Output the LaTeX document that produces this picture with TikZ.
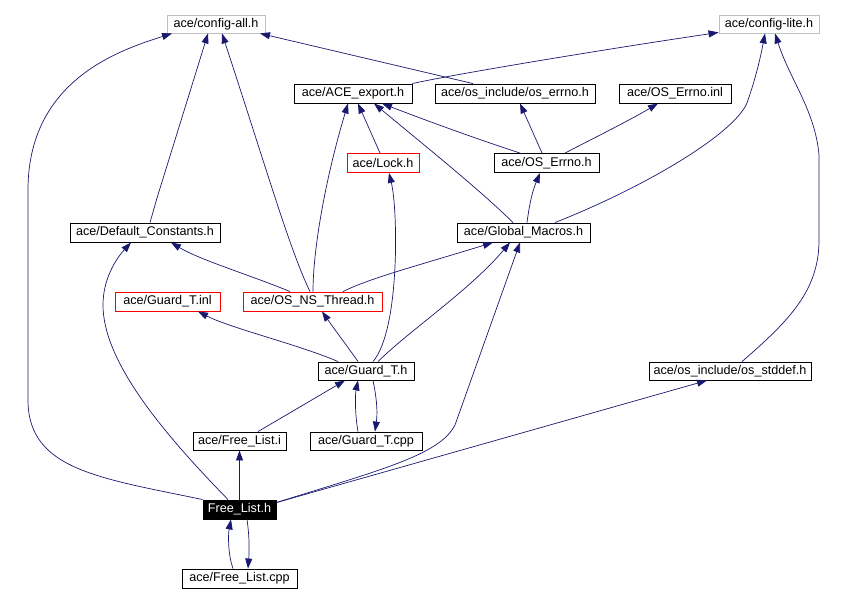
\documentclass[tikz,border=0pt]{standalone}
\usepackage{fontspec}
\setmainfont{Liberation Sans}
\usetikzlibrary{arrows.meta}
\definecolor{edgeblue}{RGB}{25,25,112}
\definecolor{boxgray}{RGB}{191,191,191}
\begin{document}
\begin{tikzpicture}[x=1pt,y=-1pt,
  box/.style={draw=black,line width=0.9pt,rectangle,inner sep=0pt,minimum height=19pt,font=\fontsize{12.6}{14}\selectfont},
  graybox/.style={box,draw=boxgray},
  redbox/.style={box,draw=red},
  blackbox/.style={box,fill=black,text=white},
  edge/.style={draw=edgeblue,line width=0.7pt,-{Triangle[length=10pt,width=7pt,fill=edgeblue]}}
]
\useasboundingbox (0,0) rectangle (846,603);
\fill[white] (0,0) rectangle (846,603);

\node[graybox,minimum width=98pt,minimum height=18pt] (cfgall) at (216,24) {ace/config-all.h};
\node[graybox,minimum width=100pt,minimum height=18pt] (cfglite) at (769,24) {ace/config-lite.h};
\node[box,minimum width=118pt] (aceexp) at (353,93.5) {ace/ACE\_export.h};
\node[box,minimum width=160pt] (oserrnoh) at (515,93.5) {ace/os\_include/os\_errno.h};
\node[box,minimum width=112pt] (oserrinl) at (675,93.5) {ace/OS\_Errno.inl};
\node[redbox,minimum width=72pt] (lock) at (383,163) {ace/Lock.h};
\node[box,minimum width=105pt] (oserrno) at (546.5,163) {ace/OS\_Errno.h};
\node[box,minimum width=150pt] (defconst) at (145,232.5) {ace/Default\_Constants.h};
\node[box,minimum width=133pt] (globmac) at (523.5,232.5) {ace/Global\_Macros.h};
\node[redbox,minimum width=105pt] (guardinl) at (167.5,301.5) {ace/Guard\_T.inl};
\node[redbox,minimum width=139pt] (osns) at (312.5,301.5) {ace/OS\_NS\_Thread.h};
\node[box,minimum width=96pt,minimum height=18pt] (guardh) at (366,371) {ace/Guard\_T.h};
\node[box,minimum width=162pt,minimum height=18pt] (osstddef) at (730,371) {ace/os\_include/os\_stddef.h};
\node[box,minimum width=93pt,minimum height=18pt] (freei) at (239.5,441) {ace/Free\_List.i};
\node[box,minimum width=112pt,minimum height=18pt] (guardcpp) at (366,441) {ace/Guard\_T.cpp};
\node[blackbox,minimum width=73pt] (freeh) at (239.5,509.5) {Free\_List.h};
\node[box,minimum width=115pt] (freecpp) at (239.5,578.5) {ace/Free\_List.cpp};

% Free_List.h
\draw[edge] (freeh.north west) .. controls (100,478) and (28,470) .. (28,400) -- (28,190) .. controls (28,80) and (120,50) .. ([xshift=-44]cfgall.south);
\draw[edge] ([xshift=-11.5]freeh.north) .. controls (160,430) and (103,360) .. (103,305) .. controls (103,280) and (115,260) .. ([xshift=-14]defconst.south);
\draw[edge] (freeh.north) -- (freei.south);
\draw[edge] ([yshift=-3]freeh.north east) .. controls (380,470) and (440,455) .. (455,425) -- ([xshift=-3.5]globmac.south);
\draw[edge] ([yshift=-3]freeh.north east) -- ([xshift=-23]osstddef.south);
\draw[edge] ([xshift=7.5]freeh.south) .. controls (250,540) and (249,555) .. ([xshift=8.5]freecpp.north);
\draw[edge] ([xshift=-6.5]freecpp.north) .. controls (228,555) and (228,535) .. ([xshift=-8.5]freeh.south);

% Free_List.i
\draw[edge] ([xshift=18.5]freei.north) -- ([xshift=-21]guardh.south);

% Guard_T.h
\draw[edge] ([xshift=7]guardh.south) .. controls (376,395) and (378,410) .. ([xshift=9]guardcpp.north);
\draw[edge] ([xshift=-8]guardcpp.north) .. controls (355,415) and (355,395) .. ([xshift=-8]guardh.south);
\draw[edge] ([xshift=-28]guardh.north) .. controls (300,345) and (230,328) .. ([xshift=30.5]guardinl.south);
\draw[edge] ([xshift=-8]guardh.north) .. controls (350,350) and (335,330) .. ([xshift=9.5]osns.south);
\draw[edge] ([xshift=7]guardh.north) .. controls (400,330) and (398,210) .. ([xshift=6]lock.south);
\draw[edge] ([xshift=12]guardh.north) .. controls (410,330) and (470,290) .. ([xshift=-13.5]globmac.south);

% OS_NS_Thread.h
\draw[edge] ([xshift=-22.5]osns.north) .. controls (250,275) and (200,260) .. ([xshift=26]defconst.south);
\draw[edge] ([xshift=-2.5]osns.north) .. controls (290,250) and (270,180) .. ([xshift=6]cfgall.south);
\draw[edge] ([xshift=0.5]osns.north) .. controls (313,250) and (325,180) .. ([xshift=-5]aceexp.south);
\draw[edge] ([xshift=30.5]osns.north) .. controls (370,278) and (420,265) .. ([xshift=-30.5]globmac.south);

% Default_Constants.h
\draw[edge] ([xshift=5]defconst.north) .. controls (153,212) and (155,205) .. (157,198) -- ([xshift=-8]cfgall.south);

% Lock.h
\draw[edge] ([xshift=-3]lock.north) -- ([xshift=5]aceexp.south);

% Global_Macros.h
\draw[edge] ([xshift=-10.5]globmac.north) .. controls (480,190) and (430,150) .. ([xshift=21]aceexp.south);
\draw[edge] ([xshift=3.5]globmac.north) .. controls (530,200) and (533,190) .. ([xshift=-6.5]oserrno.south);
\draw[edge] ([xshift=31.5]globmac.north) .. controls (650,185) and (740,130) .. (748,100) .. controls (755,80) and (760,60) .. ([xshift=-4]cfglite.south);

% OS_Errno.h
\draw[edge] ([xshift=-26.5]oserrno.north) .. controls (480,140) and (430,122) .. ([xshift=29]aceexp.south);
\draw[edge] ([xshift=-4.5]oserrno.north) -- ([xshift=5]oserrnoh.south);
\draw[edge] ([xshift=18.5]oserrno.north) .. controls (600,135) and (630,120) .. ([xshift=-17]oserrinl.south);

% os_errno.h
\draw[edge] ([xshift=-42]oserrnoh.north) -- ([xshift=44]cfgall.south);

% ACE_export.h
\draw[edge] (aceexp.north east) .. controls (450,75) and (600,50) .. ([yshift=1]cfglite.south west);

% os_stddef.h
\draw[edge] ([xshift=12]osstddef.north) .. controls (790,320) and (819,290) .. (819,240) -- (819,155) .. controls (815,110) and (790,80) .. ([xshift=6]cfglite.south);
\end{tikzpicture}
\end{document}
